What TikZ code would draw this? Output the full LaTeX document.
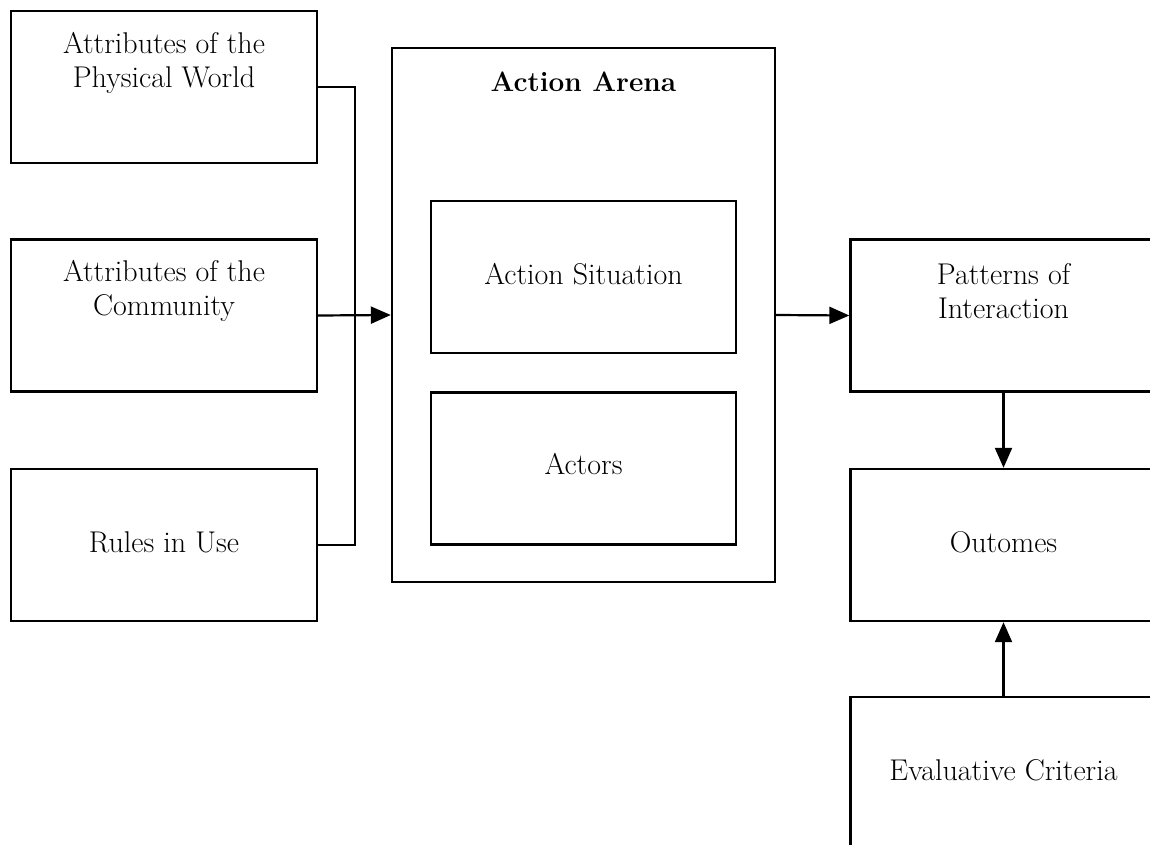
\documentclass[tikz,border=0pt]{standalone}
\usetikzlibrary{arrows.meta}
\begin{document}
\begin{tikzpicture}[x=1pt,y=-1pt,
  box/.style={draw,line width=2.4pt,minimum width=306pt,minimum height=152pt,inner sep=0pt},
  txt/.style={align=center,font=\fontsize{30}{34}\selectfont},
  arr/.style={line width=2.2pt,-{Triangle[length=20pt,width=17pt]}},
  con/.style={line width=2.2pt}]
\useasboundingbox (0,0) rectangle (1150,845);
\clip (0,0) rectangle (1150,845);
% left column
\node[box] (pw) at (164,87) {};
\node[txt] (pwt) at (164,63) {Attributes of the\\Physical World};
\node[box] (cm) at (164,315.5) {};
\node[txt] (cmt) at (164,291) {Attributes of the\\Community};
\node[box] (ru) at (164,545) {};
\node[txt] (rut) at (164,542) {Rules in Use};
% action arena
\node[box,minimum width=383pt,minimum height=534pt] (aa) at (583.5,315) {};
\node[txt,font=\fontsize{28}{34}\selectfont\bfseries] (aat) at (583.5,82) {Action Arena};
\node[box,minimum width=305pt] (as) at (583.5,277) {};
\node[txt] (ast) at (583.5,274) {Action Situation};
\node[box,minimum width=305pt] (ac) at (583.5,468.5) {};
\node[txt] (act) at (583.5,464) {Actors};
% right column
\node[box] (pi) at (1003.5,315.5) {};
\node[txt] (pit) at (1003.5,291) {Patterns of\\Interaction};
\node[box] (ou) at (1003.5,545) {};
\node[txt] (out) at (1003.5,542) {Outomes};
\node[box] (ev) at (1003.5,773) {};
\node[txt] (evt) at (1003.5,770) {Evaluative Criteria};
% connectors
\coordinate (j1) at (355,87);
\coordinate (j3) at (355,545);
\draw[con] (pw.east) -- (j1) -- (j3) -- (ru.east);
\draw[arr] (cm.east) -- (aa.west);
\draw[arr] (aa.east) -- (pi.west);
\draw[arr] (pi.south) -- (ou.north);
\draw[arr] (ev.north) -- (ou.south);
\end{tikzpicture}
\end{document}
